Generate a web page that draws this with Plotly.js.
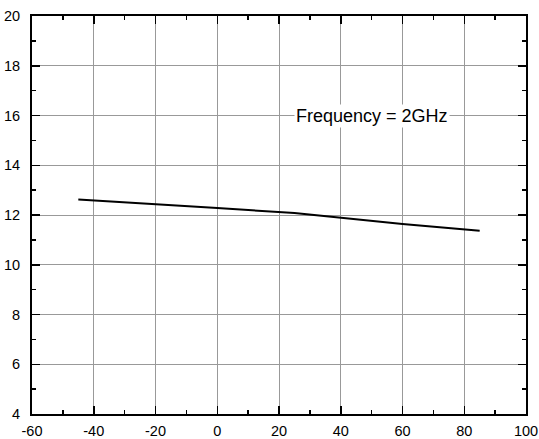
<!DOCTYPE html>
<html><head><meta charset="utf-8">
<script src="https://cdn.plot.ly/plotly-3.0.1.min.js"></script>
<style>html,body{margin:0;padding:0;background:#fff;}#chart{width:539px;height:439px;}</style>
</head><body><div id="chart"></div>
<script>
const temperature = [-45, -20, 0, 25, 40, 60, 85];
const gain = [12.62, 12.44, 12.28, 12.08, 11.9, 11.64, 11.37];
const xTicks = [-60, -40, -20, 0, 20, 40, 60, 80, 100];
const yTicks = [4, 6, 8, 10, 12, 14, 16, 18, 20];
const noteText = 'Frequency = 2GHz';

const axisCommon = {
  showline: true, linecolor: '#000', linewidth: 2, mirror: 'ticks',
  ticks: 'inside', ticklen: 8, tickwidth: 1.5, tickcolor: '#000',
  showgrid: true, gridcolor: '#999', gridwidth: 1,
  zeroline: false,
  tickfont: {family: 'Liberation Sans, Arial, sans-serif', size: 14.5, color: '#000'},
  minor: {ticks: 'inside', ticklen: 4, tickwidth: 1.5, tickcolor: '#000', showgrid: false}
};

Plotly.newPlot('chart', [{
  x: temperature, y: gain, mode: 'lines', type: 'scatter',
  line: {color: '#000', width: 2}, showlegend: false, hoverinfo: 'none'
}], {
  width: 539, height: 439,
  margin: {l: 32, r: 12.5, t: 16, b: 24.5},
  paper_bgcolor: '#fff', plot_bgcolor: '#fff',
  xaxis: Object.assign({}, axisCommon, {range: [-60, 100], tickvals: xTicks, ticktext: xTicks.map(String), minor: Object.assign({}, axisCommon.minor, {dtick: 10, tick0: 0}), ticklabelstandoff: 3}),
  yaxis: Object.assign({}, axisCommon, {range: [4, 20], tickvals: yTicks, ticktext: yTicks.map(String), minor: Object.assign({}, axisCommon.minor, {dtick: 1, tick0: 0}), ticklabelstandoff: 7}),
  annotations: [{
    x: 50, y: 16, xref: 'x', yref: 'y', text: noteText, showarrow: false,
    bgcolor: '#fff', borderpad: 1,
    font: {family: 'Liberation Sans, Arial, sans-serif', size: 18, color: '#000'}
  }]
}, {staticPlot: true});
</script></body></html>
